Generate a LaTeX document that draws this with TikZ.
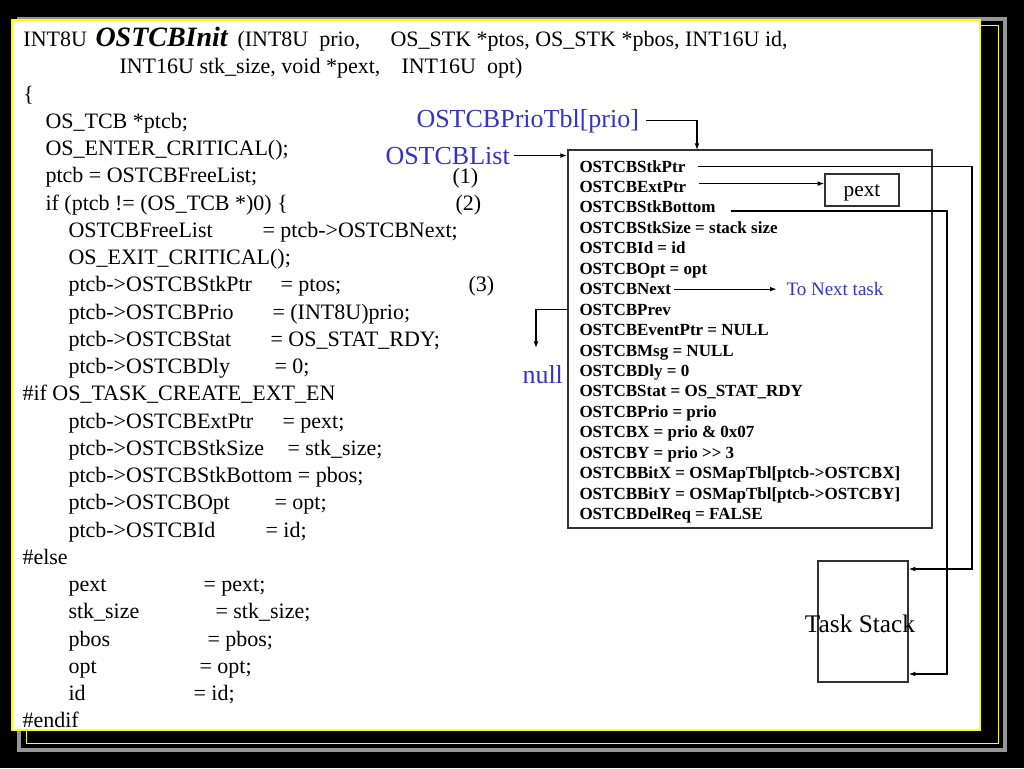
\documentclass[tikz,border=0pt]{standalone}
\usepackage{fontspec}
\setmainfont{Liberation Serif}
\usetikzlibrary{arrows.meta}
\definecolor{ptrblue}{RGB}{51,51,204}
\definecolor{framegray}{RGB}{150,150,150}
\definecolor{frameyellow}{RGB}{255,255,0}
\definecolor{boxedge}{RGB}{50,50,50}
\tikzset{every picture/.style={line width=0.75pt}}
\tikzset{
  code/.style={anchor=base west,inner sep=0pt,font=\fontsize{16.5}{20}\selectfont},
  field/.style={anchor=base west,inner sep=0pt,font=\bfseries\fontsize{12.75}{15}\selectfont},
  ptrlabel/.style={anchor=base west,inner sep=0pt,text=ptrblue,font=\fontsize{19.5}{23}\selectfont},
  link/.style={-{Latex[length=5pt,width=3.6pt]},line width=0.9pt},
}

\begin{document}
\begin{tikzpicture}[x=0.75pt,y=0.75pt,yscale=-1,xscale=1]
	\useasboundingbox (0,0) rectangle (1024,768);

	%Shape: Background
	\fill[black] (0,0) rectangle (1024,768);
	%Shape: Frame
	\fill[framegray] (17,17) rectangle (1007,752);
	\fill[black] (21,21) rectangle (1003,748);
	\draw[frameyellow] (26,25) rectangle (998,743);
	\draw[frameyellow,fill=white,line width=1.5pt] (12,20) rectangle (980,730);

	% Text Node
	\node[code] (ln1a) at (23,46.5) {INT8U};
	\node[code,font=\bfseries\itshape\fontsize{21}{24}\selectfont] (ln1b) at (95,46.5) {OSTCBInit};
	\node[code] (ln1c) at (237,46.5) {(INT8U\ \ prio,};
	\node[code] (ln1d) at (390,46.5) {OS\_STK *ptos, OS\_STK *pbos, INT16U id,};
	% Text Node
	\node[code] (ln2a) at (119,73.75) {INT16U stk\_size, void *pext,};
	\node[code] (ln2b) at (401,73.75) {INT16U\ \ opt)};
	% Text Node
	\node[code] (ln3) at (23,101) {\{};
	\node[code] (ln4) at (45,128.25) {OS\_TCB *ptcb;};
	\node[code] (ln5) at (45,155.5) {OS\_ENTER\_CRITICAL();};
	\node[code] (ln6a) at (45,182.75) {ptcb = OSTCBFreeList;};
	\node[code] (ln6b) at (452,183.5) {(1)};
	\node[code] (ln7a) at (45,210) {if (ptcb != (OS\_TCB *)0) \{};
	\node[code] (ln7b) at (455,210) {(2)};
	% Text Node
	\node[code] (ln8a) at (68,237.25) {OSTCBFreeList};
	\node[code] (ln8b) at (262,237.25) {= ptcb->OSTCBNext;};
	\node[code] (ln9) at (68,264.5) {OS\_EXIT\_CRITICAL();};
	\node[code] (ln10a) at (68,291.75) {ptcb->OSTCBStkPtr};
	\node[code] (ln10b) at (280,291.75) {= ptos;};
	\node[code] (ln10c) at (468,291.75) {(3)};
	\node[code] (ln11a) at (68,319) {ptcb->OSTCBPrio};
	\node[code] (ln11b) at (272,319) {= (INT8U)prio;};
	\node[code] (ln12a) at (68,346.25) {ptcb->OSTCBStat};
	\node[code] (ln12b) at (270,346.25) {= OS\_STAT\_RDY;};
	\node[code] (ln13a) at (68,373.5) {ptcb->OSTCBDly};
	\node[code] (ln13b) at (274,373.5) {= 0;};
	% Text Node
	\node[code] (ln14) at (22,400.75) {\#if OS\_TASK\_CREATE\_EXT\_EN};
	\node[code] (ln15a) at (68,428) {ptcb->OSTCBExtPtr};
	\node[code] (ln15b) at (282,428) {= pext;};
	\node[code] (ln16a) at (68,455.25) {ptcb->OSTCBStkSize};
	\node[code] (ln16b) at (287,455.25) {= stk\_size;};
	\node[code] (ln17) at (68,482.5) {ptcb->OSTCBStkBottom = pbos;};
	\node[code] (ln18a) at (68,509.75) {ptcb->OSTCBOpt};
	\node[code] (ln18b) at (274,509.75) {= opt;};
	\node[code] (ln19a) at (68,537) {ptcb->OSTCBId};
	\node[code] (ln19b) at (265,537) {= id;};
	% Text Node
	\node[code] (ln20) at (22,564.25) {\#else};
	\node[code] (ln21a) at (68,591.5) {pext};
	\node[code] (ln21b) at (203,591.5) {= pext;};
	\node[code] (ln22a) at (68,618.75) {stk\_size};
	\node[code] (ln22b) at (215,618.75) {= stk\_size;};
	\node[code] (ln23a) at (68,646) {pbos};
	\node[code] (ln23b) at (207,646) {= pbos;};
	\node[code] (ln24a) at (68,673.25) {opt};
	\node[code] (ln24b) at (199,673.25) {= opt;};
	\node[code] (ln25a) at (68,700.5) {id};
	\node[code] (ln25b) at (193,700.5) {= id;};
	\node[code] (ln26) at (22,727.75) {\#endif};

	%Shape: Rectangle [TCB]
	\node[draw=boxedge,line width=1.5pt,minimum width=273pt,minimum height=283.5pt,inner sep=0pt] (tcb) at (750,339) {};
	% Text Node
	\node[field] (stkptr) at (579,172) {OSTCBStkPtr};
	\node[field] (extptr) at (579,192.45) {OSTCBExtPtr};
	\node[field] (stkbottom) at (579,212.9) {OSTCBStkBottom};
	\node[field] (stksize) at (579,233.35) {OSTCBStkSize = stack size};
	\node[field] (tcbid) at (579,253.8) {OSTCBId = id};
	\node[field] (tcbopt) at (579,274.25) {OSTCBOpt = opt};
	\node[field] (tcbnext) at (579,294.7) {OSTCBNext};
	\node[field] (tcbprev) at (579,315.15) {OSTCBPrev};
	\node[field] (eventptr) at (579,335.6) {OSTCBEventPtr = NULL};
	\node[field] (tcbmsg) at (579,356.05) {OSTCBMsg = NULL};
	\node[field] (tcbdly) at (579,376.5) {OSTCBDly = 0};
	\node[field] (tcbstat) at (579,396.95) {OSTCBStat = OS\_STAT\_RDY};
	\node[field] (tcbprio) at (579,417.4) {OSTCBPrio = prio};
	\node[field] (tcbx) at (579,437.85) {OSTCBX = prio \& 0x07};
	\node[field] (tcby) at (579,458.3) {OSTCBY = prio >{}> 3};
	\node[field] (bitx) at (579,478.75) {OSTCBBitX = OSMapTbl[ptcb->OSTCBX]};
	\node[field] (bity) at (579,499.2) {OSTCBBitY = OSMapTbl[ptcb->OSTCBY]};
	\node[field] (delreq) at (579,519.65) {OSTCBDelReq = FALSE};

	%Shape: Rectangle [pext]
	\node[draw=boxedge,line width=1pt,minimum width=55.5pt,minimum height=24pt,text depth=0pt,font=\fontsize{16}{18}\selectfont] (pextbox) at (862,190) {pext};
	%Shape: Rectangle [stack]
	\node[draw=boxedge,line width=1pt,minimum width=67.5pt,minimum height=90.75pt,inner sep=0pt] (stack) at (863,621.5) {};
	% Text Node
	\node[inner sep=0pt,font=\fontsize{19}{22}\selectfont] (stacklabel) at (860,624) {Task Stack};

	% Text Node
	\node[ptrlabel] (priotbl) at (416,127) {OSTCBPrioTbl[prio]};
	\node[ptrlabel] (tcblist) at (385,164) {OSTCBList};
	\node[ptrlabel] (nullptr) at (522,383) {null};
	\node[ptrlabel,font=\fontsize{14.25}{17}\selectfont] (nexttask) at (786,295) {To Next task};

	%Straight Lines [pointers]
	\coordinate (priodrop) at (697,150);
	\draw[link] ([xshift=5pt]priotbl.east) -| (priodrop);
	\draw[link] ([xshift=3pt]tcblist.east) -- (tcblist.east -| tcb.west);
	\coordinate (ptrturn) at (972,569);
	\draw[link] ([xshift=9pt]stkptr.east) -| (ptrturn) -- (ptrturn -| stack.east);
	\coordinate (extstart) at ([xshift=9pt,yshift=-2.5pt]extptr.east);
	\draw[link] (extstart) -- (extstart -| pextbox.west);
	\coordinate (botstart) at ([xshift=11pt,yshift=-1.5pt]stkbottom.base east);
	\coordinate (botturn) at (947,674);
	\draw[link] (botstart) -| (botturn) -- (botturn -| stack.east);
	\draw[link] ([xshift=2pt]tcbnext.east) -- ([xshift=-7pt]tcbnext.east -| nexttask.west);
	\coordinate (prevdrop) at (536,348);
	\draw[link] (tcbprev.west -| tcb.west) -| (prevdrop);

\end{tikzpicture}
\end{document}
